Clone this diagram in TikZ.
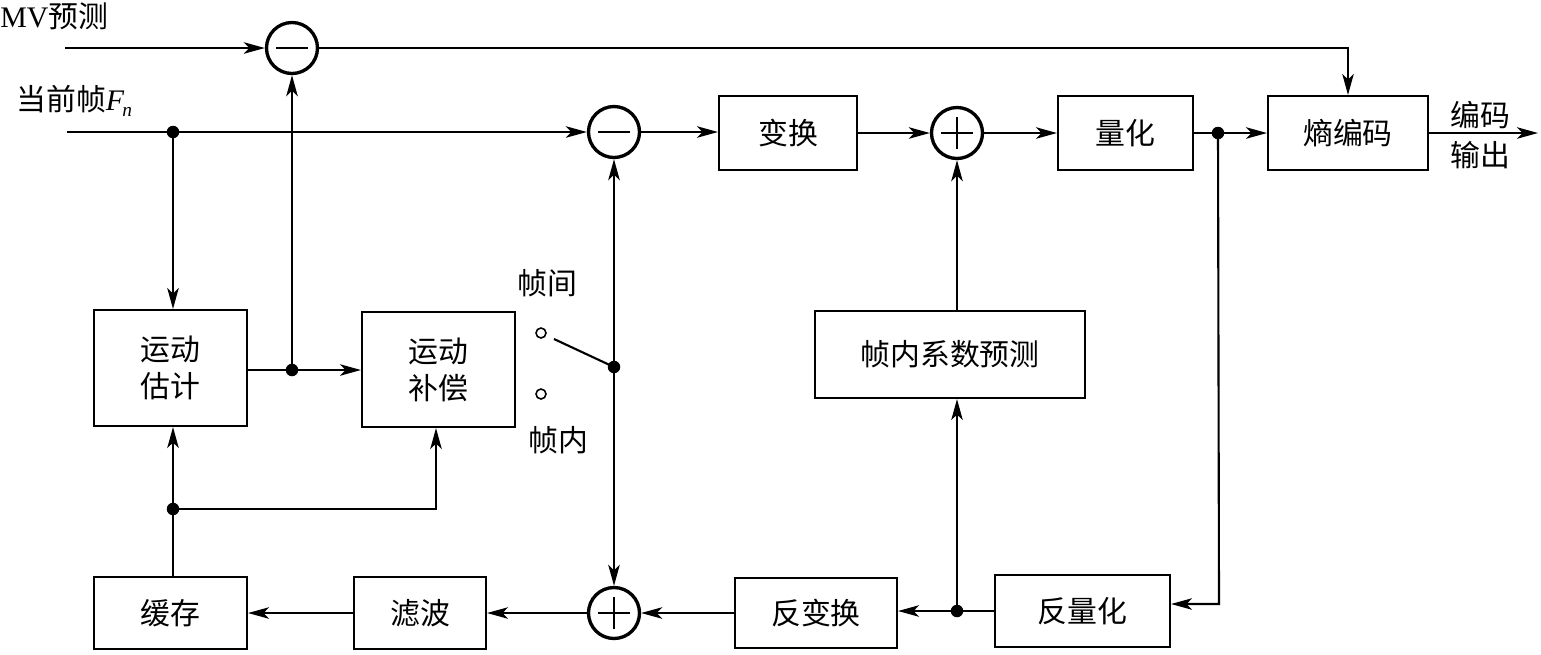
\documentclass[tikz,border=0pt]{standalone}
\usepackage{fontspec}
\setmainfont{Liberation Serif}
\newfontfamily\cjk{Noto Sans CJK SC}
\usetikzlibrary{arrows.meta}
\begin{document}
\begin{tikzpicture}[x=0.02cm,y=-0.02cm,
  box/.style={draw, line width=1.2pt, inner sep=0pt, align=center,
    font=\cjk\fontsize{17}{21}\selectfont},
  sumnode/.style={draw, circle, line width=1.9pt, minimum size=1.02cm, inner sep=0pt},
  lbl/.style={inner sep=0pt, font=\cjk\fontsize{17}{21}\selectfont},
  conn/.style={line width=1.2pt},
  arr/.style={conn, -{Stealth[length=0.42cm, width=0.23cm, inset=0.11cm]}},
  dotn/.style={circle, fill=black, inner sep=0pt, minimum size=0.25cm},
  contact/.style={circle, draw, line width=0.9pt, inner sep=0pt, minimum size=0.2cm}
]
\useasboundingbox (0,0) rectangle (1541,654);

% boxes
\node[box, minimum width=3.06cm, minimum height=2.32cm] (me) at (170.5,368) {运动\\估计};
\node[box, minimum width=3.06cm, minimum height=2.30cm] (mc) at (438.5,369.5) {运动\\补偿};
\node[box, minimum width=3.06cm, minimum height=1.44cm] (buf) at (170.5,613) {缓存};
\node[box, minimum width=2.64cm, minimum height=1.44cm] (flt) at (420,613) {滤波};
\node[box, minimum width=3.24cm, minimum height=1.40cm] (itr) at (816,613) {反变换};
\node[box, minimum width=3.50cm, minimum height=1.44cm] (iq) at (1082.5,611) {反量化};
\node[box, minimum width=5.40cm, minimum height=1.74cm] (icp) at (950,354.5) {帧内系数预测};
\node[box, minimum width=2.76cm, minimum height=1.48cm] (tr) at (788,133) {变换};
\node[box, minimum width=2.70cm, minimum height=1.48cm] (q) at (1125.5,133) {量化};
\node[box, minimum width=3.20cm, minimum height=1.48cm] (ec) at (1348,133) {熵编码};

% summing nodes
\node[sumnode] (sub1) at (292,48) {};
\node[sumnode] (sub2) at (614,132) {};
\node[sumnode] (add1) at (957,133) {};
\node[sumnode] (add2) at (614,613) {};
\draw[conn] ([xshift=-0.32cm]sub1.center) -- ([xshift=0.32cm]sub1.center);
\draw[conn] ([xshift=-0.32cm]sub2.center) -- ([xshift=0.32cm]sub2.center);
\draw[conn] ([xshift=-0.32cm]add1.center) -- ([xshift=0.32cm]add1.center);
\draw[conn] ([yshift=-0.32cm]add1.center) -- ([yshift=0.32cm]add1.center);
\draw[conn] ([xshift=-0.32cm]add2.center) -- ([xshift=0.32cm]add2.center);
\draw[conn] ([yshift=-0.32cm]add2.center) -- ([yshift=0.32cm]add2.center);

% labels
\node[inner sep=0pt, anchor=west] (mvl) at (0,16) {\fontsize{17}{21}\selectfont MV\cjk 预测};
\node[inner sep=0pt, anchor=west] (fnl) at (16,101) {\cjk\fontsize{17}{21}\selectfont 当前帧\rmfamily\itshape F\kern-1pt\raisebox{-0.45ex}{\fontsize{11}{12}\selectfont n}};
\node[lbl] (inter) at (547,283) {帧间};
\node[lbl] (intra) at (558,440) {帧内};
\node[lbl] (out1) at (1480,115) {编码};
\node[lbl] (out2) at (1480,155) {输出};

% coordinates and dots
\coordinate (mvin) at (65,48);
\coordinate (fnin) at (67,132);
\coordinate (outend) at (1538,133);
\node[dotn] (d1) at (173,132) {};
\node[dotn] (d2) at (292,370) {};
\node[dotn] (d3) at (1218,133) {};
\node[dotn] (d4) at (957,611) {};
\node[dotn] (d5) at (173,509) {};
\node[dotn] (sw) at (614,367) {};
\coordinate (turn1) at (436,509);
\coordinate (turn2) at (1219,604);
\node[contact] (c1) at (541,333) {};
\node[contact] (c2) at (541,394) {};
\coordinate (arm) at (554,339);

% connectors
\draw[arr] (mvin) -- (sub1.west);
\draw[arr] (sub1.east) -| (ec.north);
\draw[arr] (fnin) -- (sub2.west);
\draw[arr] (d1.center) -- (d1.center |- me.north);
\draw[arr] (me.east |- d2) -- (d2 -| mc.west);
\draw[arr] (d2.center) -- (sub1.south);
\draw[arr] (sub2.east) -- (sub2.east -| tr.west);
\draw[arr] (tr.east) -- (add1.west);
\draw[arr] (add1.east) -- (q.west);
\draw[arr] (q.east) -- (ec.west);
\draw[arr] (ec.east |- outend) -- (outend);
\draw[arr] (d3.center) -- (turn2) -- (turn2 -| iq.east);
\draw[arr] (iq.west) -- (iq.west -| itr.east);
\draw[arr] (d4.center) -- (d4.center |- icp.south);
\draw[arr] (icp.north -| add1.south) -- (add1.south);
\draw[arr] (itr.west) -- (add2.east);
\draw[arr] (add2.west) -- (flt.east);
\draw[arr] (flt.west) -- (buf.east);
\draw[arr] (buf.north -| d5.center) -- (d5.center |- me.south);
\draw[arr] (d5.center) -- (turn1) -- (turn1 |- mc.south);
\draw[arr] (sw.center) -- (sub2.south);
\draw[arr] (sw.center) -- (add2.north);
\draw[conn] (arm) -- (sw.center);
\end{tikzpicture}
\end{document}
